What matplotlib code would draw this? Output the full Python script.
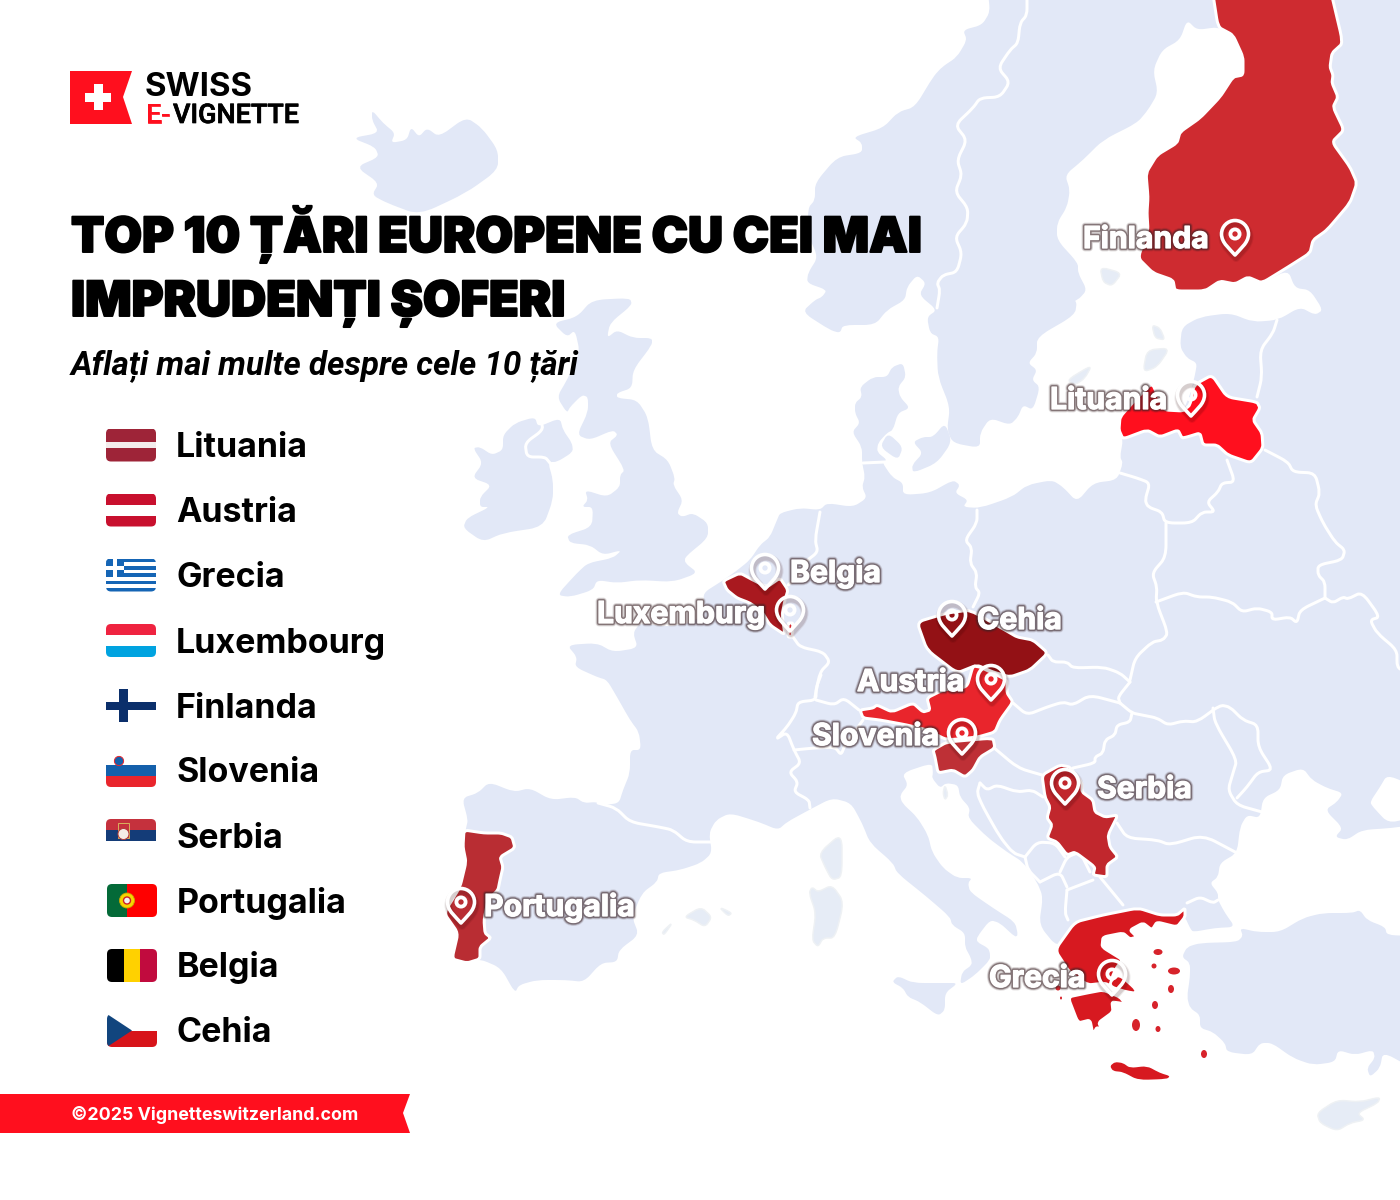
import matplotlib
matplotlib.use("Agg")
import matplotlib.pyplot as plt
import matplotlib.patheffects as pe
from matplotlib.path import Path
from matplotlib.patches import PathPatch, Rectangle, Polygon, Circle, Ellipse, FancyBboxPatch
from matplotlib.transforms import Affine2D

# map colours
LAND = "#E2E8F7"
RED = "#FF0F1E"

# outlines, in image pixels
MAINLAND = [(988,-8),(990,12),(982,25),(963,30),(967,40),(957,57),(942,67),(933,77),(915,107),(898,112),(883,128),
    (853,137),(862,143),(862,153),(837,157),(815,183),(815,200),(808,208),(808,235),(818,257),(808,273),(807,283),(827,290),(822,297),(815,300),
    (802,312),(830,330),(840,333),(843,325),(875,325),(887,310),(905,300),(907,287),(917,275),(926,283),(919,295),(937,310),(927,317),(930,333),
    (939,337),(937,353),(938,377),(950,407),(947,430),(953,443),(980,448),(980,433),(990,418),(1010,425),(1018,417),(1023,405),
    (1033,410),(1040,387),(1032,380),(1037,370),(1028,363),(1037,353),(1037,337),(1075,315),(1077,300),(1057,293),(1040,300),(1057,309),(1078,300),(1087,290),
    (1078,273),(1078,263),(1057,240),(1057,223),(1067,207),(1070,190),(1065,175),(1083,160),(1103,140),(1137,123),(1148,110),
    (1158,93),(1153,70),(1162,50),(1180,40),(1187,20),(1197,30),(1218,27),(1233,35),(1243,57),(1243,75),(1233,77),(1220,97),(1200,118),
    (1180,132),(1177,143),(1157,155),(1146,173),(1148,197),(1147,213),(1148,230),(1138,258),(1153,273),(1173,280),(1175,291),
    (1205,291),(1220,281),(1235,284),(1248,277),(1262,283),(1288,270),(1295,288),(1310,290),(1323,310),(1315,315),(1300,307),(1278,320),
    (1253,322),(1230,313),(1200,317),(1182,327),(1180,347),(1187,358),(1197,363),(1195,375),(1190,395),(1183,411),(1165,410),(1160,400),(1152,384),(1120,417),
    (1119,430),(1123,440),(1120,457),(1123,463),(1117,480),(1093,483),(1077,502),(1063,487),(1052,480),(1027,485),(1012,497),(980,508),
    (963,507),(968,500),(955,493),(960,485),(953,480),(930,493),(903,495),(903,483),(892,477),(882,462),(887,460),(877,452),(878,443),(887,433),(893,430),
    (898,413),(910,408),(900,397),(898,387),(906,377),(903,363),(892,367),(887,377),(873,377),(860,387),(862,397),(855,403),(855,413),
    (860,423),(852,432),(862,447),(862,462),(865,477),(862,487),(867,498),(853,507),(827,503),(820,510),(800,508),(780,513),(777,520),
    (770,537),(760,545),(750,560),(735,572),(722,581),(703,593),(705,607),(695,622),(667,627),(640,623),(633,633),(638,648),(613,652),
    (597,643),(567,645),(577,657),(575,667),(597,677),(607,680),(617,697),(630,720),(639,732),(641,750),(630,750),(630,773),(623,790),
    (619,803),(605,805),(596,802),(584,803),(575,797),(551,800),(530,788),(514,792),(489,782),(478,793),(462,798),(468,820),(466,828),
    (463,847),(466,862),(460,887),(444,913),(458,933),(452,959),(467,963),(480,959),(501,968),(515,993),(519,985),(537,980),(566,980),
    (584,982),(601,963),(617,962),(619,950),(639,935),(632,917),(642,893),(657,882),(659,873),(680,870),(701,863),(712,853),(709,833),
    (716,820),(730,813),(759,822),(778,830),(787,822),(809,810),(832,798),(851,803),(862,823),(870,843),(893,863),(897,873),(927,897),
    (950,917),(952,925),(965,933),(965,947),(971,958),(972,965),(962,972),(960,985),(975,975),(990,960),(990,953),(988,948),(977,942),
    (977,937),(990,920),(1000,923),(1015,937),(1018,935),(1015,922),(993,908),(970,892),(968,883),(972,878),(957,878),(943,868),(932,852),
    (928,835),(917,817),(902,803),(900,795),(908,785),(902,773),(932,763),(933,773),(932,778),(940,788),(946,783),(958,785),(960,797),
    (970,808),(968,818),(987,837),(1007,852),(1023,862),(1037,882),(1043,897),(1039,925),(1057,947),(1075,935),(1103,925),(1138,915),
    (1160,920),(1177,922),(1185,917),(1190,928),(1193,932),(1215,928),(1235,927),(1225,913),(1218,900),(1218,893),(1210,883),(1218,877),
    (1220,863),(1237,853),(1240,827),(1247,815),(1260,818),(1263,798),(1280,790),(1283,775),(1303,768),(1312,780),(1327,788),(1343,793),
    (1337,802),(1325,810),(1343,828),(1335,837),(1347,840),(1362,830),(1392,828),(1412,825),(1416,815),(1416,-2),(1416,-12),(1405,-12),(995,-12)]
AZOV = [(1412,818),(1388,823),(1373,807),(1370,802),(1380,787),(1387,775),(1412,785)]
TURKEY = [(1412,936),(1387,935),(1385,927),(1367,920),(1360,910),(1352,913),(1323,913),(1303,918),(1280,932),(1257,932),(1240,928),
    (1243,936),(1237,942),(1200,943),(1187,947),(1182,957),(1190,963),(1190,977),(1187,997),(1190,1008),(1200,1015),(1200,1028),
    (1213,1032),(1225,1043),(1227,1052),(1252,1055),(1260,1043),(1272,1043),(1293,1058),(1313,1065),(1335,1062),(1338,1050),(1355,1055),
    (1373,1050),(1375,1058),(1367,1068),(1370,1077),(1380,1068),(1383,1052),(1412,1068),(1416,1062),(1416,942)]
BRITAIN = [(592,300),(630,298),(632,305),(610,323),(607,338),(617,330),(633,338),(652,338),(652,345),(633,370),(632,388),(617,393),
    (617,398),(637,400),(648,417),(652,450),(668,460),(675,478),(673,485),(683,500),(677,513),(682,517),(693,513),(708,523),(708,538),
    (685,557),(685,563),(698,573),(673,582),(640,580),(617,583),(597,580),(593,590),(570,597),(557,595),(577,573),(588,563),(613,558),
    (622,550),(603,555),(590,545),(570,543),(567,535),(592,527),(593,507),(582,507),(588,500),(585,490),(607,497),(620,487),(620,475),
    (625,470),(608,443),(618,435),(613,430),(590,440),(577,435),(588,412),(588,397),(582,395),(570,407),(567,413),(557,397),(567,380),
    (580,353),(575,330),(567,337),(553,323),(577,317)]
IRELAND = [(473,448),(480,447),(492,455),(503,450),(503,435),(515,423),(535,417),(538,427),(560,418),(563,430),(572,443),(573,452),
    (557,462),(548,462),(553,480),(553,500),(543,527),(503,533),(483,542),(463,528),(467,518),(490,507),(480,507),(480,497),(492,485),
    (472,478),(483,463)]
ICELAND = [(372,110),(383,123),(395,133),(391,143),(407,140),(411,127),(419,137),(427,128),(439,137),(466,117),(482,128),(498,150),
    (498,170),(466,193),(419,215),(387,203),(372,195),(379,183),(356,167),(379,157),(375,147),(352,138),(379,133),(372,120)]
SICILY = [(892,982),(898,976),(913,983),(943,983),(958,983),(945,993),(945,1010),(938,1016),(920,1002),(908,997),(903,988)]
ZEALAND = [(923,437),(933,437),(945,423),(952,442),(937,463),(913,473),(912,465),(923,453),(913,442)]
FUNEN = [(888,433),(903,447),(898,460),(880,447)]
# pale islands with a faint grey edge
CORSICA = [(842,833),(842,877),(832,880),(825,867),(819,853)]
SARDINIA = [(812,887),(818,892),(832,885),(844,902),(835,938),(823,938),(818,947),(812,940),(816,913),(809,893)]
MALLORCA = [(684,917),(701,907),(712,917),(705,927),(694,920)]
MENORCA = [(719,907),(732,913),(728,916)]
IBIZA = [(673,922),(664,935),(662,932)]
CYPRUS = [(1317,1113),(1337,1100),(1360,1102),(1380,1097),(1378,1103),(1357,1113),(1365,1120),(1350,1123),(1337,1131),(1320,1123)]
GOTLAND = [(1092,365),(1067,380),(1075,385),(1085,378)]
SAAREMAA = [(1147,350),(1170,348),(1157,367),(1143,372)]
HIIUMAA = [(1152,325),(1160,328),(1165,340),(1155,338)]
ALAND = [(1100,267),(1122,273),(1112,286),(1103,282)]
KRK = [(945,785),(948,795),(945,800),(943,793)]

FINLAND = [(1212,-12),(1218,27),(1233,35),(1243,57),(1243,75),(1233,77),(1220,97),(1200,118),(1180,132),(1177,143),(1157,155),(1146,173),
    (1148,197),(1147,213),(1148,230),(1138,258),(1153,273),(1173,280),(1175,291),(1205,291),(1220,281),(1235,284),(1248,277),(1262,283),
    (1288,267),(1310,253),(1313,240),(1327,230),(1350,203),(1357,183),(1350,167),(1332,142),(1344,130),(1333,107),(1338,97),(1332,83),
    (1333,75),(1330,67),(1332,53),(1343,43),(1330,-12),(1320,-14),(1222,-14)]
LATVIA = [(1120,417),(1135,400),(1152,383),(1160,400),(1165,410),(1183,411),(1190,405),(1194,385),(1212,375),(1227,397),(1257,402),(1260,408),
    (1253,420),(1262,433),(1263,448),(1251,463),(1228,455),(1217,445),(1203,445),(1200,433),(1187,437),(1182,438),(1178,430),(1160,437),
    (1147,430),(1123,439),(1119,430)]
BELGIUM = [(723,581),(740,573),(753,580),(767,587),(780,578),(788,590),(785,600),(782,615),(785,635),(770,625),(762,612),
    (750,603),(737,598),(727,590)]
LUXEMBOURG = [(788,623),(793,623),(792,637),(788,637)]
CZECHIA = [(917,622),(947,613),(970,610),(1005,630),(1017,637),(1033,640),(1048,653),(1030,670),(1010,677),(993,672),(977,665),(957,673),(927,650)]
AUSTRIA = [(860,710),(873,708),(877,705),(892,712),(913,703),(923,712),(930,710),(927,698),(943,690),(967,687),(973,666),(980,667),
    (1007,680),(1007,693),(1013,702),(1000,720),(995,732),(978,737),(947,740),(927,730),(907,725),(880,720),(863,718)]
SLOVENIA = [(933,750),(947,742),(993,738),(995,748),(980,757),(973,770),(965,777),(953,770),(938,773),(935,757)]
SERBIA = [(1042,775),(1060,765),(1070,767),(1082,783),(1082,792),(1093,800),(1095,812),(1105,817),(1118,815),(1108,835),(1110,847),
    (1118,857),(1107,865),(1107,877),(1093,875),(1095,867),(1075,852),(1067,855),(1057,842),(1047,838),(1052,825),(1047,818),(1050,807),(1045,797)]
PORTUGAL = [(464,830),(484,833),(501,833),(512,837),(515,848),(500,857),(503,867),(500,880),(498,890),(488,900),(484,920),(485,933),(491,938),
    (480,947),(480,959),(467,963),(452,959),(458,933),(444,913),(460,887),(466,862),(463,847)]
GREECE = [(1055,950),(1075,922),(1103,915),(1138,908),(1160,915),(1177,915),(1185,908),(1185,917),(1177,927),(1157,922),(1152,930),(1143,923),
    (1130,930),(1137,937),(1130,939),(1123,933),(1103,937),(1102,947),(1123,960),(1117,967),(1113,975),(1110,985),(1118,990),(1105,983),(1088,985),(1070,973)]
PELOPONNESE = [(1068,997),(1087,993),(1103,990),(1120,997),(1126,1005),(1120,1003),(1112,1002),(1113,1012),(1098,1023),(1107,1033),(1097,1027),
    (1093,1035),(1090,1020),(1078,1023)]
EUBOEA = [(1118,975),(1137,992),(1125,990),(1110,985)]
CRETE = [(1110,1066),(1115,1062),(1123,1063),(1130,1068),(1147,1066),(1160,1073),(1170,1076),(1167,1079),(1138,1080),(1123,1072),(1113,1071)]
AEGEAN_X = [1158,1154,1174,1171,1155,1136,1158,1204,1058,1061]
AEGEAN_Y = [952,966,971,989,1005,1025,1029,1054,988,998]
AEGEAN_W = [9,5,12,6,6,8,5,6,5,2]
AEGEAN_H = [6,5,7,8,8,12,6,8,5,3]

BORDERS = [
    [(1027,-3),(1027,15),(1020,23),(1018,43),(1010,50),(998,68),(1010,82),(1000,97),(980,98),(973,108),(955,125),(967,140),(957,160),(962,175),(955,192),
     (968,208),(967,223),(955,237),(962,253),(957,272),(943,275),(937,283),(940,290),(937,308)],
    [(1277,320),(1273,333),(1260,350),(1262,377),(1257,397)],
    [(1227,460),(1235,482),(1222,483),(1218,492),(1207,502),(1215,512),(1202,512),(1192,523),(1165,523),(1162,512),(1148,507),(1145,500),(1150,483),(1137,478),(1120,473)],
    [(1265,450),(1288,462),(1293,472),(1315,473),(1320,493),(1315,505),(1323,523),(1335,542),(1345,550),(1342,560),(1318,565),(1318,575),(1325,582),(1325,598)],
    [(1166,523),(1166,557),(1152,573),(1157,587),(1156,602),(1168,633),(1163,640),(1152,642),(1135,658),(1130,680)],
    [(1156,602),(1183,592),(1197,597),(1212,597),(1232,602),(1242,612),(1257,608),(1272,612),(1272,620),(1290,617),(1297,623),(1300,610),(1325,598)],
    [(1325,598),(1333,603),(1343,597),(1348,599),(1362,592),(1380,617),(1370,620),(1377,633),(1397,650),(1397,667),(1405,672)],
    [(1048,655),(1053,662),(1067,662),(1073,668),(1103,667),(1120,673),(1130,682)],
    [(1130,682),(1118,697),(1120,703)],
    [(1013,703),(1027,715),(1047,707),(1063,702),(1073,705),(1090,695),(1120,703)],
    [(1120,703),(1132,713),(1142,715),(1157,718),(1168,725),(1183,721),(1197,722),(1220,705),(1230,707),(1243,720),(1258,725),(1258,747),(1273,770),(1258,772),(1247,787),(1237,798)],
    [(1213,708),(1215,723),(1237,760),(1233,773),(1228,790),(1237,805),(1262,812)],
    [(1132,713),(1130,722),(1117,725),(1115,735),(1105,740),(1103,753),(1095,757),(1095,763),(1073,768)],
    [(993,747),(1018,768),(1042,775)],
    [(1117,823),(1127,838),(1157,840),(1170,845),(1203,835),(1237,853)],
    [(1100,877),(1123,905)],
    [(1187,903),(1200,897),(1213,903),(1218,900)],
    [(1067,890),(1065,913),(1068,920)],
    [(1067,890),(1093,880)],
    [(1040,882),(1060,872),(1067,887)],
    [(1025,857),(1037,842),(1055,843),(1065,857)],
    [(1025,857),(1028,870),(1040,882)],
    [(1060,872),(1067,857),(1080,852),(1090,872)],
    [(980,783),(977,793),(983,807),(1000,837),(1013,853),(1025,857)],
    [(980,783),(987,790),(997,785),(1017,792),(1032,790),(1043,797)],
    [(810,808),(809,800),(794,792),(798,782),(789,772),(801,763),(794,750),(787,732),(775,740),(787,727),(796,713),(798,702),(816,700),(816,688),(821,675)],
    [(816,700),(834,705),(844,698),(859,710)],
    [(794,750),(814,748),(835,747),(841,755),(845,745),(863,720)],
    [(598,803),(616,808),(630,822),(659,827),(673,830),(687,842),(712,842)],
    [(793,637),(800,647),(823,652),(830,662),(820,672),(815,697)],
    [(820,512),(815,540),(818,552),(805,562),(800,575),(788,585)],
    [(977,510),(977,523),(965,540),(972,548),(970,563),(977,573),(975,587),(980,593),(973,607)],
    [(863,463),(885,462)],
    [(541,420),(543,430),(525,443),(527,457),(545,457),(550,463)],
]

# header, legend and pin labels
TITLE_LINES = ["TOP 10 ȚĂRI EUROPENE CU CEI MAI", "IMPRUDENȚI ȘOFERI"]
SUBTITLE = "Aflați mai multe despre cele 10 țări"
COUNTRIES = ["Lituania","Austria","Grecia","Luxembourg","Finlanda","Slovenia","Serbia","Portugalia","Belgia","Cehia"]
LEGEND_Y = [445,510,575,640.5,705.5,770.5,835.5,900.5,965.5,1030.5]
LABELS = ["Finlanda","Lituania","Belgia","Luxemburg","Cehia","Austria","Slovenia","Serbia","Portugalia","Grecia"]
LABEL_X = [1083,1050,790,597,977,857,812,1097,484,989]
LABEL_Y = [248,409,582,623,629,691,745,798,916,987]
PIN_X = [1235,1191,765,790,952,991,962,1065,461,1112]
PIN_TOP = [219,380,553,595,600,664,718,768,887,959]

px = 0.72  # one image pixel in points at dpi 100

fig = plt.figure(figsize=(14, 12), dpi=100, facecolor="white")
ax = fig.add_axes([0, 0, 1, 1])
ax.set_xlim(0, 1400)
ax.set_ylim(1200, 0)
ax.axis("off")


def rounded_path(pts, closed=True, t=0.35):
    # straight runs between the read points, each corner eased with a curve
    verts, codes = [], []
    n = len(pts)
    idx = range(n) if closed else range(1, n - 1)
    if not closed:
        verts.append(pts[0])
        codes.append(Path.MOVETO)
    for i in idx:
        a, p, b = pts[i - 1], pts[i], pts[(i + 1) % n]
        s = (p[0] + (a[0] - p[0]) * t, p[1] + (a[1] - p[1]) * t)
        e = (p[0] + (b[0] - p[0]) * t, p[1] + (b[1] - p[1]) * t)
        verts += [s, p, e]
        codes += [Path.MOVETO if not verts[:-3] else Path.LINETO, Path.CURVE3, Path.CURVE3]
    if closed:
        verts.append(verts[0])
        codes.append(Path.CLOSEPOLY)
    else:
        verts.append(pts[-1])
        codes.append(Path.LINETO)
    return Path(verts, codes)


def shape(pts, fc, ec="none", lw=0, z=1, t=0.35):
    p = PathPatch(rounded_path(pts, t=t), facecolor=fc, edgecolor=ec, linewidth=lw * px, zorder=z, joinstyle="round")
    ax.add_patch(p)
    return p


for outline in [MAINLAND, TURKEY, BRITAIN, IRELAND, ICELAND, SICILY, ZEALAND, FUNEN]:
    shape(outline, LAND)
shape(AZOV, "white", z=1.5)
for outline in [CORSICA, SARDINIA, MALLORCA, MENORCA, IBIZA, CYPRUS, GOTLAND, SAAREMAA, HIIUMAA, ALAND, KRK]:
    shape(outline, "#E6ECF6", ec="#EEF1F4", lw=1.5)

for line in BORDERS:
    ax.add_patch(PathPatch(rounded_path(line, closed=False), facecolor="none", edgecolor="white",
                           linewidth=3 * px, zorder=2, capstyle="round", joinstyle="round"))

# highlighted countries
for outline, col in [(FINLAND, "#CE2B30"), (LATVIA, RED), (CZECHIA, "#931115"), (SLOVENIA, "#BE3036"), (AUSTRIA, "#E9252C"),
                     (BELGIUM, "#A9191F"), (LUXEMBOURG, "#D8262E"), (SERBIA, "#C1272D"), (PORTUGAL, "#B92D33"),
                     (GREECE, "#D71920"), (PELOPONNESE, "#D71920")]:
    shape(outline, col, ec="white", lw=3, z=3, t=0.22)
for outline in [EUBOEA, CRETE]:
    shape(outline, "#D71920", z=3)
for x, y, w, h in zip(AEGEAN_X, AEGEAN_Y, AEGEAN_W, AEGEAN_H):
    ax.add_patch(Ellipse((x, y), w, h, facecolor="#D7232B", edgecolor="none", zorder=3))

# logo
ax.add_patch(Polygon([(70, 71), (132, 71), (123, 97), (132, 124), (70, 124)], facecolor=RED, edgecolor="none", zorder=6))
ax.add_patch(Rectangle((85, 92.5), 26, 9, facecolor="white", zorder=7))
ax.add_patch(Rectangle((93.5, 84), 9, 26, facecolor="white", zorder=7))
ax.text(145, 96, "SWISS", fontsize=33 * px, family="Inter", weight="bold", color="black", zorder=7)
ax.text(146, 123, "E-", fontsize=27 * px, family="Roboto", weight="medium", color=RED, zorder=7,
        path_effects=[pe.withStroke(linewidth=0.5, foreground=RED)])
ax.text(173, 123, "VIGNETTE", fontsize=27 * px, family="Roboto", weight="medium", color="black", zorder=7,
        path_effects=[pe.withStroke(linewidth=0.5, foreground="black")])

# title
for line, base in zip(TITLE_LINES, [252, 316]):
    ax.text(71, base, line, fontsize=48.6 * px, family="Inter", weight=900, color="black", zorder=8,
            path_effects=[pe.withStroke(linewidth=1.4, foreground="black")])
ax.text(71, 374, SUBTITLE, fontsize=33.2 * px, family="Roboto", weight="bold", style="italic", color="black", zorder=8)


def flag(x, yc, name):
    w, h = 50, 33
    top = yc - h / 2
    box = FancyBboxPatch((x, top), w, h, boxstyle="round,pad=0,rounding_size=5", facecolor="none", edgecolor="none", zorder=5)
    ax.add_patch(box)
    parts = []

    def rect(x0, y0, ww, hh, col):
        r = Rectangle((x + x0, top + y0), ww, hh, facecolor=col, edgecolor="none", zorder=5)
        ax.add_patch(r)
        parts.append(r)

    if name == "Lituania":
        rect(0, 0, w, 13.5, "#9E2438"); rect(0, 13.5, w, 6, "#F3ECEC"); rect(0, 19.5, w, 13.5, "#9E2438")
    elif name == "Austria":
        rect(0, 0, w, 11, "#C8102E"); rect(0, 22, w, 11, "#C8102E")
    elif name == "Grecia":
        for i in range(9):
            rect(0, i * h / 9, w, h / 9, "#1565B5" if i % 2 == 0 else "white")
        rect(0, 0, 18, 18, "#1565B5"); rect(7, 0, 4, 18, "white"); rect(0, 7, 18, 4, "white")
    elif name == "Luxembourg":
        rect(0, 0, w, 11, "#EF2340"); rect(0, 22, w, 11, "#00A3E0")
    elif name == "Finlanda":
        rect(0, 12.5, w, 8, "#0B2F6B"); rect(13, 0, 9, h, "#0B2F6B")
    elif name == "Slovenia":
        rect(0, 11, w, 11, "#1460AB"); rect(0, 22, w, 11, "#E9252C")
        ax.add_patch(Circle((x + 13, top + 7), 4.6, facecolor="#1460AB", edgecolor="#E9252C", linewidth=0.7, zorder=6))
    elif name == "Serbia":
        rect(0, 0, w, 11, "#C5313D"); rect(0, 11, w, 11, "#143C78")
        ax.add_patch(Rectangle((x + 12, top + 4), 11, 15, facecolor="#C5313D", edgecolor="#D8B25C", linewidth=0.7, zorder=6))
        ax.add_patch(Circle((x + 17.5, top + 15), 5.5, facecolor="#F4EDE6", edgecolor="#B33A3A", linewidth=0.7, zorder=6))
    elif name == "Portugalia":
        rect(0, 0, 20, h, "#046A38"); rect(20, 0, 30, h, "#FF0000")
        ax.add_patch(Circle((x + 20, top + 16.5), 7.5, facecolor="#F6D600", edgecolor="#C9A400", linewidth=0.6, zorder=6))
        ax.add_patch(Circle((x + 20, top + 16.5), 3.5, facecolor="#F4F4F4", edgecolor="#D0202A", linewidth=1, zorder=6))
    elif name == "Belgia":
        rect(0, 0, 16.7, h, "black"); rect(16.7, 0, 16.6, h, "#FFD100"); rect(33.3, 0, 16.7, h, "#C10B3E")
    elif name == "Cehia":
        rect(0, 16.5, w, 16.5, "#D7141A")
        tri = Polygon([(x, top), (x + 25, top + 16.5), (x, top + h)], facecolor="#11457E", edgecolor="none", zorder=5.5)
        ax.add_patch(tri)
        parts.append(tri)
    for r in parts:
        r.set_clip_path(box)


for i, (name, yc) in enumerate(zip(COUNTRIES, LEGEND_Y)):
    shift = 1 if i >= 7 else 0
    flag(106 + shift, yc, name)
    ax.text(176 + shift, yc + 12, name, fontsize=34 * px, family="Inter", weight="bold", color="black", zorder=8)

# bottom banner
ax.add_patch(Polygon([(0, 1094), (410, 1094), (403, 1113), (410, 1133), (0, 1133)], facecolor=RED, edgecolor="none", zorder=6))
ax.text(71, 1120, "©2025 Vignetteswitzerland.com", fontsize=17.8 * px, family="Inter", weight="bold", color="white", zorder=8)


def pin(cx, top):
    cy = top + 15
    r = 13.5
    tip = top + 36
    k = r * 0.55
    verts = [(cx, tip), (cx - 5, tip - 6), (cx - r, cy + 9), (cx - r, cy),
             (cx - r, cy - k), (cx - k, cy - r), (cx, cy - r),
             (cx + k, cy - r), (cx + r, cy - k), (cx + r, cy),
             (cx + r, cy + 9), (cx + 5, tip - 6), (cx, tip), (cx, tip)]
    codes = [Path.MOVETO] + [Path.CURVE4] * 12 + [Path.CLOSEPOLY]
    tear = Path(verts, codes)
    for lw, a in [(8, 0.08), (6, 0.12)]:
        ax.add_patch(PathPatch(tear, facecolor="none", edgecolor="#300000", linewidth=lw * px, alpha=a, zorder=9,
                               joinstyle="round", transform=ax.transData + Affine2D().translate(1, -3)))
    ax.add_patch(PathPatch(tear, facecolor="none", edgecolor="white", linewidth=3.6 * px, zorder=10, joinstyle="round"))
    ax.add_patch(Circle((cx, cy), 4.6, facecolor="none", edgecolor="white", linewidth=3.8 * px, zorder=10))


halo = [pe.Stroke(linewidth=7 * px, foreground="#3A2226", alpha=0.12),
        pe.Stroke(linewidth=5.5 * px, foreground="#3A2226", alpha=0.22),
        pe.Stroke(linewidth=4 * px, foreground="#3A2226", alpha=0.45),
        pe.Stroke(linewidth=1.2 * px, foreground="white"),
        pe.Normal()]
for label, x, y in zip(LABELS, LABEL_X, LABEL_Y):
    ax.text(x, y, label, fontsize=30.2 * px, family="Inter", weight="bold", color="white", zorder=11, path_effects=halo)
for x, top in zip(PIN_X, PIN_TOP):
    pin(x, top)

fig.savefig("out.png", dpi=100)
